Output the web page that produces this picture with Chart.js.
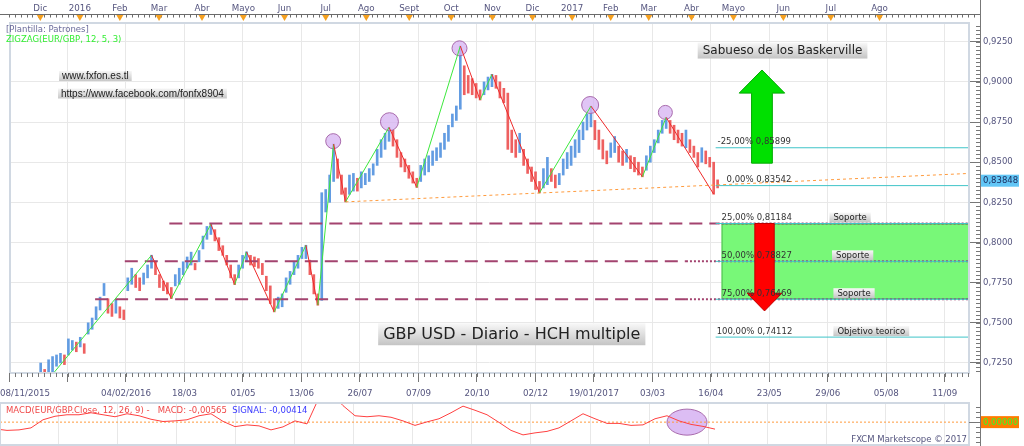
<!DOCTYPE html>
<html>
<head>
<meta charset="utf-8">
<script src="https://cdn.jsdelivr.net/npm/chart.js@4.4.0/dist/chart.umd.min.js"></script>
<style>
  body { margin: 0; background: #fff; width: 1024px; height: 446px; overflow: hidden; position: relative; }
  canvas { position: absolute; left: 0; }
  #main { top: 0; }
  #macd { top: 401px; }
</style>
</head>
<body>
<canvas id="main" width="1024" height="401"></canvas>
<canvas id="macd" width="1024" height="45"></canvas>
<script>
// EUR/GBP daily, one entry every two sessions: low / high
const lows = [
  0.7090, 0.7050, 0.7020, 0.6990, 0.7000, 0.7030, 0.7060, 0.7080, 0.7120, 0.7188,
  0.7150, 0.7188, 0.7180, 0.7230, 0.7250, 0.7240, 0.7300, 0.7330, 0.7320, 0.7350,
  0.7310, 0.7430, 0.7460, 0.7520, 0.7580, 0.7670, 0.7560, 0.7540, 0.7560, 0.7530,
  0.7520, 0.7700, 0.7740, 0.7720, 0.7700, 0.7740, 0.7780, 0.7840, 0.7800, 0.7720,
  0.7700, 0.7680, 0.7651, 0.7730, 0.7740, 0.7800, 0.7840, 0.7860, 0.7830, 0.7880,
  0.7960, 0.8020, 0.8050, 0.8010, 0.7950, 0.7920, 0.7860, 0.7780, 0.7738, 0.7780,
  0.7840, 0.7880, 0.7860, 0.7850, 0.7840, 0.7800, 0.7700, 0.7620, 0.7568, 0.7590,
  0.7600, 0.7690, 0.7740, 0.7800, 0.7840, 0.7900, 0.7900, 0.7800, 0.7680, 0.7610,
  0.7640, 0.8190, 0.8250, 0.8380, 0.8400, 0.8300, 0.8253, 0.8300, 0.8320, 0.8320,
  0.8340, 0.8360, 0.8380, 0.8420, 0.8480, 0.8530, 0.8580, 0.8630, 0.8600, 0.8530,
  0.8470, 0.8440, 0.8400, 0.8370, 0.8343, 0.8380, 0.8420, 0.8440, 0.8480, 0.8510,
  0.8530, 0.8580, 0.8630, 0.8720, 0.8760, 0.8830, 0.8920, 0.8930, 0.8920, 0.8900,
  0.8887, 0.8920, 0.8950, 0.8970, 0.8960, 0.8900, 0.8870, 0.8580, 0.8560, 0.8530,
  0.8560, 0.8480, 0.8430, 0.8380, 0.8330, 0.8309, 0.8340, 0.8360, 0.8380, 0.8340,
  0.8360, 0.8420, 0.8460, 0.8480, 0.8530, 0.8560, 0.8640, 0.8700, 0.8720, 0.8640,
  0.8580, 0.8520, 0.8490, 0.8530, 0.8560, 0.8500, 0.8480, 0.8500, 0.8460, 0.8440,
  0.8420, 0.8409, 0.8450, 0.8500, 0.8560, 0.8620, 0.8680, 0.8710, 0.8680, 0.8640,
  0.8620, 0.8600, 0.8590, 0.8560, 0.8530, 0.8470, 0.8500, 0.8490, 0.8470, 0.8301,
  0.8340
];
const highs = [
  0.7160, 0.7120, 0.7090, 0.7060, 0.7080, 0.7110, 0.7140, 0.7170, 0.7190, 0.7250,
  0.7210, 0.7270, 0.7290, 0.7300, 0.7310, 0.7300, 0.7400, 0.7390, 0.7380, 0.7410,
  0.7370, 0.7500, 0.7530, 0.7600, 0.7660, 0.7745, 0.7650, 0.7620, 0.7640, 0.7600,
  0.7580, 0.7780, 0.7840, 0.7800, 0.7780, 0.7810, 0.7860, 0.7921, 0.7880, 0.7800,
  0.7760, 0.7750, 0.7720, 0.7800, 0.7840, 0.7880, 0.7910, 0.7940, 0.7870, 0.7950,
  0.8040, 0.8100, 0.8114, 0.8080, 0.8030, 0.7980, 0.7920, 0.7860, 0.7800, 0.7860,
  0.7920, 0.7942, 0.7920, 0.7910, 0.7900, 0.7870, 0.7790, 0.7730, 0.7650, 0.7660,
  0.7680, 0.7780, 0.7820, 0.7880, 0.7920, 0.7970, 0.7983, 0.7890, 0.7800, 0.7680,
  0.8310, 0.8330, 0.8420, 0.8613, 0.8520, 0.8420, 0.8340, 0.8420, 0.8430, 0.8400,
  0.8440, 0.8430, 0.8460, 0.8490, 0.8580, 0.8640, 0.8680, 0.8717, 0.8700, 0.8640,
  0.8560, 0.8520, 0.8480, 0.8440, 0.8400, 0.8480, 0.8520, 0.8540, 0.8570, 0.8590,
  0.8620, 0.8680, 0.8730, 0.8800, 0.8850, 0.9223, 0.9100, 0.9040, 0.9020, 0.8990,
  0.8950, 0.9000, 0.9030, 0.9047, 0.9040, 0.9000, 0.8960, 0.8930, 0.8700, 0.8640,
  0.8680, 0.8580, 0.8520, 0.8470, 0.8440, 0.8380, 0.8460, 0.8530, 0.8460, 0.8420,
  0.8430, 0.8520, 0.8560, 0.8600, 0.8640, 0.8700, 0.8750, 0.8800, 0.8849, 0.8760,
  0.8700, 0.8640, 0.8570, 0.8620, 0.8660, 0.8600, 0.8570, 0.8580, 0.8540, 0.8530,
  0.8500, 0.8470, 0.8540, 0.8600, 0.8640, 0.8700, 0.8760, 0.8779, 0.8760, 0.8730,
  0.8700, 0.8680, 0.8700, 0.8640, 0.8600, 0.8560, 0.8590, 0.8570, 0.8530, 0.8500,
  0.8390
];

// ZigZag(12,5,3) turning points (entry index, price)
const pivotK = [12, 37, 42, 52, 58, 61, 68, 76, 79, 83, 86, 97, 104, 115, 120, 123, 135, 148, 161, 167, 179];
const pivotPrice = [0.7180, 0.7921, 0.7651, 0.8114, 0.7738, 0.7942, 0.7568, 0.7983, 0.7610, 0.8613, 0.8253,
  0.8717, 0.8343, 0.9223, 0.8887, 0.9047, 0.8309, 0.8849, 0.8409, 0.8779, 0.8301];

// marked shoulders / head
const circleK = [82.9, 97.1, 114.8, 147.8, 166.8];
const circlePrice = [0.8631, 0.8752, 0.9209, 0.8856, 0.8810];

// neckline
const necklineK = [86, 243.5];
const necklinePrice = [0.8253, 0.8430];

// horizontal supports
const supportLevels = [0.81184, 0.78827, 0.76469];
const supportFromK = [41.5, 30.25, 22.75];
const supportDotK = [180, 172, 172];

// projection levels
const fibPct = ['-25,00%', '0,00%', '25,00%', '50,00%', '75,00%', '100,00%'];
const fibLevels = [0.85899, 0.83542, 0.81184, 0.78827, 0.76469, 0.74112];
const lastPrice = 0.83848;

// axes
const monthLabels = ['Dic', '2016', 'Feb', 'Mar', 'Abr', 'Mayo', 'Jun', 'Jul', 'Ago', 'Sept', 'Oct', 'Nov',
  'Dic', '2017', 'Feb', 'Mar', 'Abr', 'Mayo', 'Jun', 'Jul', 'Ago'];
const monthK = [8.9, 18.9, 29, 38.9, 49.75, 60.2, 70.6, 81, 91.25, 102.1, 112.7, 123.1,
  133.25, 143.25, 153, 162.6, 173.4, 184, 196.6, 208.6, 220.9];
const dateLabels = ['08/11/2015', '', '04/02/2016', '18/03', '01/05', '13/06', '26/07', '07/09', '20/10',
  '02/12', '19/01/2017', '03/03', '16/04', '23/05', '29/06', '05/08', '11/09'];
const priceTicks = [0.725, 0.75, 0.775, 0.8, 0.825, 0.85, 0.875, 0.9, 0.925];

// MACD(12,26,9), one value every third entry
const macd = [
  -0.0054, -0.0066, -0.0062, -0.0046, 0.0019, 0.0047, 0.0059, 0.0059, 0.0075, 0.0059,
  0.0043, 0.0067, 0.0051, 0.0023, 0.0005, 0.0010, 0.0019, 0.0051, 0.0067, 0.0006,
  -0.0036, -0.0022, -0.0030, -0.0062, -0.0038, 0.0010, -0.0014, 0.0196, 0.0236, 0.0132,
  0.0051, 0.0043, 0.0051, 0.0039, 0.0010, -0.0026, 0.0002, 0.0027, 0.0075, 0.0128,
  0.0095, 0.0059, -0.0002, -0.0066, -0.0102, -0.0086, -0.0074, -0.0046, 0.0010, 0.0067,
  0.0027, -0.0010, -0.0010, -0.0026, -0.0022, 0.0027, 0.0051, 0.0010, -0.0018, -0.0034,
  -0.0056
];
const macdStep = 3;

const xMin = 1.25, xMax = 243.5;
const dateStep = 14.775;
const ink = '#55557f';
const FONT = 'DejaVu Sans';

Chart.defaults.font.family = FONT;
Chart.defaults.font.size = 8.5;
Chart.defaults.color = ink;

const barColors = lows.map((l, i) => {
  const mid = (l + highs[i]) / 2;
  const prev = i ? (lows[i - 1] + highs[i - 1]) / 2 : mid;
  return mid >= prev ? 'rgb(98,156,226)' : 'rgb(238,96,96)';
});

function tagBox(ctx, text, left, cy, size, pad, h) {
  ctx.font = size + 'px "' + FONT + '"';
  const w = ctx.measureText(text).width + pad * 2;
  const g = ctx.createLinearGradient(0, cy - h / 2, 0, cy + h / 2);
  g.addColorStop(0, '#f8f8f8');
  g.addColorStop(1, '#c4c4c4');
  ctx.fillStyle = g;
  ctx.fillRect(left, cy - h / 2, w, h);
  ctx.fillStyle = '#222';
  ctx.textAlign = 'left';
  ctx.textBaseline = 'middle';
  ctx.fillText(text, left + pad, cy + 0.5);
  return w;
}

function drawArrow(ctx, x, y, a) {
  const cx = x.getPixelForValue(a.k);
  const sw = x.getPixelForValue(a.k + a.shaft / 2) - cx;
  const hw = x.getPixelForValue(a.k + a.head / 2) - cx;
  const y0 = y.getPixelForValue(a.from), yn = y.getPixelForValue(a.neck), yt = y.getPixelForValue(a.tip);
  ctx.beginPath();
  ctx.moveTo(cx - sw, y0);
  ctx.lineTo(cx - sw, yn);
  ctx.lineTo(cx - hw, yn);
  ctx.lineTo(cx, yt);
  ctx.lineTo(cx + hw, yn);
  ctx.lineTo(cx + sw, yn);
  ctx.lineTo(cx + sw, y0);
  ctx.closePath();
  ctx.fillStyle = a.fill;
  ctx.fill();
  ctx.strokeStyle = a.line;
  ctx.lineWidth = 1;
  ctx.stroke();
}

const arrows = [
  { k: 191.2, from: 0.8494, neck: 0.8930, tip: 0.9074, shaft: 5.25, head: 11.5, fill: '#00e000', line: '#00aa00' },
  { k: 191.85, from: 0.81184, neck: 0.7684, tip: 0.7574, shaft: 4.9, head: 8.75, fill: '#ff0000', line: '#c00000' }
];
const fibTextK = [180, 182.25, 181, 181, 181, 179.75];
const notes = [
  { text: 'Soporte', k: 208.25, level: 0.81184 },
  { text: 'Soporte', k: 208.9, level: 0.78827 },
  { text: 'Soporte', k: 209.25, level: 0.76469 },
  { text: 'Objetivo teorico', k: 209.25, level: 0.74112 }
];

const mainDecor = {
  id: 'mainDecor',
  beforeDatasetsDraw(chart) {
    const { ctx, scales: { x, y }, chartArea: a } = chart;
    const zl = x.getPixelForValue(181);
    const zt = y.getPixelForValue(supportLevels[0]);
    const zb = y.getPixelForValue(supportLevels[2]);
    ctx.save();
    ctx.fillStyle = 'rgb(120,248,120)';
    ctx.fillRect(zl, zt, a.right - zl, zb - zt);
    ctx.strokeStyle = 'rgb(80,190,80)';
    ctx.lineWidth = 1;
    ctx.strokeRect(zl + 0.5, zt + 0.5, a.right - zl - 1, zb - zt - 1);
    ctx.restore();
  },
  afterDatasetsDraw(chart) {
    const { ctx, scales: { x, y } } = chart;
    ctx.save();
    arrows.forEach(a => drawArrow(ctx, x, y, a));

    ctx.font = '8.5px "' + FONT + '"';
    ctx.fillStyle = '#333';
    ctx.textAlign = 'left';
    ctx.textBaseline = 'middle';
    fibLevels.forEach((lv, i) => {
      const t = fibPct[i] + ' ' + lv.toFixed(5).replace('.', ',');
      ctx.fillText(t, x.getPixelForValue(fibTextK[i]), y.getPixelForValue(lv) - 5.5);
    });
    notes.forEach(n => tagBox(ctx, n.text, x.getPixelForValue(n.k), y.getPixelForValue(n.level) - 6, 8.5, 4, 10));

    // titles
    ctx.font = '12px "' + FONT + '"';
    let w = ctx.measureText('Sabueso de los Baskerville').width + 10;
    tagBox(ctx, 'Sabueso de los Baskerville', x.getPixelForValue(196.4) - w / 2, y.getPixelForValue(0.9195), 12, 5, 16);
    ctx.font = '16px "' + FONT + '"';
    w = ctx.measureText('GBP USD - Diario - HCH multiple').width + 10;
    tagBox(ctx, 'GBP USD - Diario - HCH multiple', x.getPixelForValue(128) - w / 2, y.getPixelForValue(0.7429), 16, 5, 22);
    ctx.restore();
  },
  afterDraw(chart) {
    const { ctx, scales: { x, y }, chartArea: a } = chart;
    ctx.save();
    // plot frame
    ctx.strokeStyle = '#d0d8e2';
    ctx.lineWidth = 2;
    ctx.strokeRect(a.left, a.top, a.right - a.left, a.bottom - a.top);

    // top ruler
    ctx.strokeStyle = '#6b6b6b';
    ctx.lineWidth = 1;
    ctx.beginPath();
    ctx.moveTo(0, 14.5);
    ctx.lineTo(981, 14.5);
    for (let v = 1; v <= xMax + 8; v += dateStep / 10) {
      const px = Math.round(x.getPixelForValue(v)) + 0.5;
      if (px > 980) break;
      ctx.moveTo(px, 14.5);
      ctx.lineTo(px, 17.5);
    }
    ctx.stroke();
    ctx.fillStyle = '#f5a020';
    monthK.forEach(k => {
      const px = x.getPixelForValue(k);
      ctx.beginPath();
      ctx.moveTo(px - 3.5, 15);
      ctx.lineTo(px + 3.5, 15);
      ctx.lineTo(px, 21);
      ctx.closePath();
      ctx.fill();
    });

    // bottom minor ticks
    ctx.strokeStyle = '#777';
    ctx.beginPath();
    for (let v = 1; v <= xMax; v += dateStep / 10) {
      const px = Math.round(x.getPixelForValue(v)) + 0.5;
      ctx.moveTo(px, a.bottom);
      ctx.lineTo(px, a.bottom + 4);
    }
    // right axis line + minor ticks
    ctx.moveTo(980.5, 0);
    ctx.lineTo(980.5, a.bottom + 28);
    for (let v = 0.7200; v <= 0.9365; v += 0.0025) {
      const py = Math.round(y.getPixelForValue(v)) + 0.5;
      if (py < a.top || py > a.bottom) continue;
      ctx.moveTo(976, py);
      ctx.lineTo(980, py);
    }
    ctx.stroke();

    // first date label sits on the left edge
    ctx.font = '8.7px "' + FONT + '"';
    ctx.fillStyle = ink;
    ctx.textAlign = 'left';
    ctx.textBaseline = 'middle';
    ctx.fillText(dateLabels[0], 0, a.bottom + 21);

    // last price marker
    const py = y.getPixelForValue(lastPrice);
    ctx.fillStyle = '#62c6f6';
    ctx.fillRect(981, py - 6, 38, 12);
    ctx.fillStyle = '#1b2a5a';
    ctx.font = '8.5px "' + FONT + '"';
    ctx.fillText(lastPrice.toFixed(5).replace('.', ','), 983, py + 0.5);

    // template info
    ctx.fillStyle = '#6a6a9a';
    ctx.fillText('[Plantilla: Patrones]', 6, 30);
    ctx.fillStyle = '#33ee33';
    ctx.fillText('ZIGZAG(EUR/GBP, 12, 5, 3)', 6, 40);

    // site tags
    ctx.font = '10px "Liberation Sans"';
    [['www.fxfon.es.tl', 59, 76], ['https://www.facebook.com/fonfx8904', 58, 93.5]].forEach(([t, l, cy]) => {
      const w = ctx.measureText(t).width + 6;
      const g = ctx.createLinearGradient(0, cy - 5, 0, cy + 5);
      g.addColorStop(0, '#f6f6f6');
      g.addColorStop(1, '#c8c8c8');
      ctx.fillStyle = g;
      ctx.fillRect(l, cy - 5, w, 10);
      ctx.fillStyle = '#222';
      ctx.fillText(t, l + 3, cy + 0.5);
    });
    ctx.restore();
  }
};

const lineStyle = { type: 'line', pointRadius: 0, fill: false, tension: 0 };

const datasets = [
  Object.assign({}, lineStyle, {
    label: 'ZigZag',
    data: pivotK.map((k, i) => ({ x: k, y: pivotPrice[i] })),
    borderWidth: 1,
    segment: { borderColor: c => c.p1.parsed.y > c.p0.parsed.y ? '#3ce83c' : '#ee2a2a' },
    order: 0
  }),
  {
    type: 'scatter',
    label: 'marks',
    data: circleK.map((k, i) => ({ x: k, y: circlePrice[i] })),
    pointRadius: [7.5, 9, 7.5, 8.5, 7],
    backgroundColor: 'rgba(214,178,242,0.75)',
    borderColor: '#a86aac',
    borderWidth: 1,
    order: 1
  },
  Object.assign({}, lineStyle, {
    label: 'neckline',
    data: necklineK.map((k, i) => ({ x: k, y: necklinePrice[i] })),
    borderColor: '#ff9a3c',
    borderWidth: 1,
    borderDash: [3, 3],
    order: 2
  })
];
fibLevels.forEach(lv => datasets.push(Object.assign({}, lineStyle, {
  data: [{ x: 179.5, y: lv }, { x: xMax, y: lv }],
  borderColor: '#3fc4c8',
  borderWidth: 1,
  order: 2
})));
supportLevels.forEach((lv, i) => datasets.push(Object.assign({}, lineStyle, {
  data: [{ x: supportFromK[i], y: lv }, { x: supportDotK[i], y: lv }, { x: xMax, y: lv }],
  borderColor: '#a3436f',
  borderWidth: 2,
  segment: { borderDash: c => c.p0DataIndex === 0 ? [13, 7] : [2, 2] },
  order: 2
})));
datasets.push({
  type: 'bar',
  label: 'EUR/GBP',
  data: lows.map((l, i) => ({ x: i, y: [l, highs[i]] })),
  backgroundColor: barColors,
  barThickness: 2,
  order: 3
});

new Chart(document.getElementById('main'), {
  type: 'bar',
  data: { datasets },
  options: {
    responsive: false,
    animation: false,
    devicePixelRatio: 1,
    layout: { padding: 0 },
    plugins: { legend: { display: false }, tooltip: { enabled: false } },
    scales: {
      x: {
        type: 'linear', position: 'bottom', min: xMin, max: xMax, offset: false,
        afterBuildTicks: s => { s.ticks = dateLabels.map((_, n) => ({ value: 1 + n * dateStep })); },
        afterFit: s => { s.height = 28; },
        grid: { offset: false, color: '#e8e8e8', tickColor: '#777', tickLength: 9 },
        border: { display: false },
        ticks: { autoSkip: false, maxRotation: 0, padding: 7, font: { size: 8.7 },
          callback: (v, n) => n === 0 ? '' : dateLabels[n] }
      },
      xTop: {
        type: 'linear', position: 'top', min: xMin, max: xMax, offset: false,
        afterBuildTicks: s => { s.ticks = monthK.map(k => ({ value: k })); },
        afterFit: s => { s.height = 23; },
        grid: { offset: false, drawOnChartArea: false, drawTicks: false },
        border: { display: false },
        ticks: { autoSkip: false, maxRotation: 0, padding: 9, font: { size: 8.7 },
          callback: (v, n) => monthLabels[n] }
      },
      y: {
        type: 'linear', position: 'right', min: 0.71877, max: 0.93665, beginAtZero: false,
        afterBuildTicks: s => { s.ticks = priceTicks.map(v => ({ value: v })); },
        afterFit: s => { s.width = 55; },
        grid: { color: '#e8e8e8', tickColor: '#777', tickLength: 11 },
        border: { display: false },
        ticks: { padding: 3, callback: v => v.toFixed(4).replace('.', ',') }
      }
    }
  },
  plugins: [mainDecor]
});

const macdDecor = {
  id: 'macdDecor',
  beforeDatasetsDraw(chart) {
    const { ctx, scales: { x, y } } = chart;
    ctx.save();
    ctx.beginPath();
    ctx.ellipse(x.getPixelForValue(173), y.getPixelForValue(0), 20, 13, 0, 0, Math.PI * 2);
    ctx.fillStyle = 'rgba(214,178,242,0.85)';
    ctx.fill();
    ctx.strokeStyle = '#a86aac';
    ctx.lineWidth = 1;
    ctx.stroke();
    ctx.restore();
  },
  afterDraw(chart) {
    const { ctx, scales: { y }, chartArea: a } = chart;
    ctx.save();
    ctx.strokeStyle = '#d0d8e2';
    ctx.lineWidth = 2;
    ctx.strokeRect(a.left, a.top, a.right - a.left, a.bottom - a.top);

    ctx.strokeStyle = '#777';
    ctx.lineWidth = 1;
    ctx.beginPath();
    ctx.moveTo(980.5, 0);
    ctx.lineTo(980.5, 45);
    for (let v = -0.016; v <= 0.0153; v += 0.004) {
      const py = Math.round(y.getPixelForValue(v)) + 0.5;
      ctx.moveTo(Math.abs(v) < 1e-9 ? 969 : 976, py);
      ctx.lineTo(980, py);
    }
    ctx.stroke();

    const zy = y.getPixelForValue(0);
    ctx.fillStyle = '#ff7c00';
    ctx.fillRect(981, zy - 6, 38, 12);
    ctx.font = '8.5px "' + FONT + '"';
    ctx.textAlign = 'left';
    ctx.textBaseline = 'middle';
    ctx.fillStyle = '#2cff2c';
    ctx.fillText('0,00000', 983, zy + 0.5);

    const last = macd[macd.length - 1];
    ctx.fillStyle = '#f04848';
    const t1 = 'MACD(EUR/GBP.Close, 12, 26, 9) -   MACD: ' + (last - 0.00005).toFixed(5).replace('.', ',');
    ctx.fillText(t1, 6, a.top + 7.5);
    const w1 = ctx.measureText(t1 + '  ').width;
    ctx.fillStyle = '#3a3aff';
    ctx.fillText('SIGNAL: -0,00414', 6 + w1, a.top + 7.5);

    ctx.fillStyle = ink;
    ctx.textAlign = 'right';
    ctx.fillText('FXCM Marketscope \u00a9 2017', a.right - 2, a.bottom - 5);
    ctx.restore();
  }
};

new Chart(document.getElementById('macd'), {
  type: 'line',
  data: {
    datasets: [
      {
        label: 'MACD',
        data: macd.map((v, j) => ({ x: j * macdStep, y: v })),
        borderColor: '#ff4040',
        borderWidth: 1,
        pointRadius: 0,
        tension: 0
      },
      {
        label: 'zero',
        data: [{ x: xMin, y: 0 }, { x: xMax, y: 0 }],
        borderColor: '#ff9a3c',
        borderWidth: 1,
        borderDash: [2, 2],
        pointRadius: 0
      }
    ]
  },
  options: {
    responsive: false,
    animation: false,
    devicePixelRatio: 1,
    layout: { padding: { top: 2, bottom: 1 } },
    plugins: { legend: { display: false }, tooltip: { enabled: false } },
    scales: {
      x: {
        type: 'linear', min: xMin, max: xMax,
        afterBuildTicks: s => { s.ticks = dateLabels.map((_, n) => ({ value: 1 + n * dateStep })); },
        afterFit: s => { s.height = 0; },
        grid: { color: '#e8e8e8', drawTicks: false },
        border: { display: false },
        ticks: { display: false }
      },
      y: {
        type: 'linear', position: 'right', min: -0.0183, max: 0.0153,
        afterFit: s => { s.width = 55; },
        grid: { display: false },
        border: { display: false },
        ticks: { display: false }
      }
    }
  },
  plugins: [macdDecor]
});
</script>
</body>
</html>
